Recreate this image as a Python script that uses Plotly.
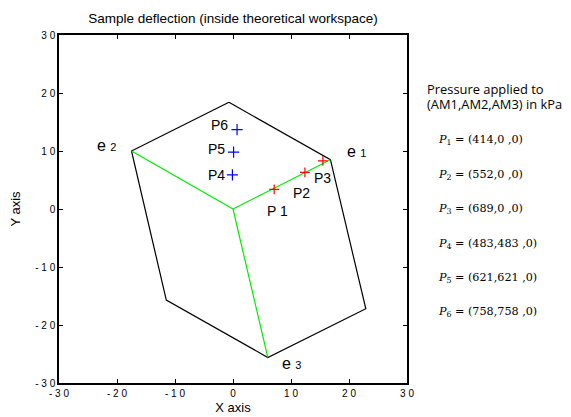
import plotly.graph_objects as go

# Workspace hexagon (projected cube) vertices
e1 = (16.8, 8.5)
e2 = (-17.5, 10.0)
e3 = (6.0, -25.6)
outline_x = [-0.7, 16.8, 22.9, 6.0, -11.5, -17.5, -0.7]
outline_y = [18.4, 8.5, -17.2, -25.6, -15.7, 10.0, 18.4]

# Sample points
red_names = ["P 1", "P2", "P3"]
red_x = [7.1, 12.4, 15.5]
red_y = [3.4, 6.3, 8.3]
blue_names = ["P4", "P5", "P6"]
blue_x = [-0.1, 0.1, 0.7]
blue_y = [5.9, 9.8, 13.7]

# Pressure table
pressure_ids = ["1", "2", "3", "4", "5", "6"]
pressure_vals = ["(414,0 ,0)", "(552,0 ,0)", "(689,0 ,0)",
                 "(483,483 ,0)", "(621,621 ,0)", "(758,758 ,0)"]

tick_vals = [-30, -20, -10, 0, 10, 20, 30]
tick_text = ["- 3 0", "- 2 0", "- 1 0", "0", "1 0", "2 0", "3 0"]

fig = go.Figure()

fig.add_trace(go.Scatter(x=outline_x, y=outline_y, mode="lines",
                         line=dict(color="black", width=1.2), hoverinfo="skip"))
for (ex, ey) in (e1, e2, e3):
    fig.add_trace(go.Scatter(x=[0, ex], y=[0, ey], mode="lines",
                             line=dict(color="#00ee00", width=1.2), hoverinfo="skip"))

fig.add_trace(go.Scatter(x=red_x, y=red_y, mode="markers",
                         marker=dict(symbol="cross-thin", size=7,
                                     line=dict(color="red", width=1.2))))
fig.add_trace(go.Scatter(x=blue_x, y=blue_y, mode="markers",
                         marker=dict(symbol="cross-thin", size=8,
                                     line=dict(color="blue", width=1.2))))

lab_font = dict(family="Liberation Sans, Arial, sans-serif", size=14, color="black")
# point labels
red_lab_pos = [(7.7, -0.3), (11.8, 2.7), (15.5, 5.3)]
blue_lab_pos = [(-2.8, 5.8), (-2.9, 10.4), (-2.4, 14.5)]
for name, (lx, ly) in zip(red_names + blue_names, red_lab_pos + blue_lab_pos):
    fig.add_annotation(x=lx, y=ly, text=name, showarrow=False, font=lab_font)

# e labels
e_labels = [("1", 21.3, 10.0), ("2", -21.8, 11.0), ("3", 10.1, -26.6)]
for num, lx, ly in e_labels:
    fig.add_annotation(x=lx, y=ly, showarrow=False, font=dict(family="Liberation Sans, Arial", size=16, color="black"),
                       text="e <span style='font-size:11px'>" + num + "</span>")

# Right side text (positions given in window pixels, plot area spans 59..407 x 35..383)
def px2paper_x(px):
    return (px - 59) / 348.0

def py2paper_y(py):
    return (383 - py) / 348.0

info_font = dict(family="Open Sans, Noto Sans, sans-serif", size=12.9, color="black")
fig.add_annotation(xref="paper", yref="paper", x=px2paper_x(425), y=py2paper_y(89),
                   xanchor="left", yanchor="middle", showarrow=False,
                   text="Pressure applied to", font=info_font)
fig.add_annotation(xref="paper", yref="paper", x=px2paper_x(425), y=py2paper_y(103.5),
                   xanchor="left", yanchor="middle", showarrow=False,
                   text="(AM1,AM2,AM3) in kPa", font=info_font)
row_y = [140, 175, 209, 243.5, 278, 312]
for pid, val, ry in zip(pressure_ids, pressure_vals, row_y):
    fig.add_annotation(xref="paper", yref="paper", x=px2paper_x(436), y=py2paper_y(ry),
                       xanchor="left", yanchor="middle", showarrow=False,
                       text="<i>P</i><sub>" + pid + "</sub>&nbsp;=&nbsp;" + val,
                       font=dict(family="DejaVu Serif, Liberation Serif, serif", size=11.2, color="black"))

axis_common = dict(range=[-30, 30], tickvals=tick_vals, ticktext=tick_text,
                   ticks="inside", ticklen=4, tickwidth=1, tickcolor="black",
                   showline=True, linecolor="black", linewidth=1.5, mirror="ticks",
                   showgrid=False, zeroline=False, automargin=False,
                   tickfont=dict(family="Liberation Sans, Arial", size=10, color="black"))

# The page body has an 8px default margin, so the figure is sized to fit the window.
fig.update_layout(
    width=563, height=409, autosize=False,
    margin=dict(l=51, r=164, t=27, b=34),
    plot_bgcolor="white", paper_bgcolor="white",
    showlegend=False,
    title=dict(text="Sample deflection (inside theoretical workspace)",
               x=225 / 563, xanchor="center", y=1 - 10 / 409, yanchor="middle",
               font=dict(family="Liberation Sans, Arial", size=13.5, color="black")),
    xaxis=dict(**axis_common, title=dict(text="X axis", standoff=5,
               font=dict(family="Liberation Sans, Arial", size=13, color="black"))),
    yaxis=dict(**axis_common, title=dict(text="Y axis", standoff=19,
               font=dict(family="Liberation Sans, Arial", size=13, color="black"))),
)

fig.write_html("out.html")
